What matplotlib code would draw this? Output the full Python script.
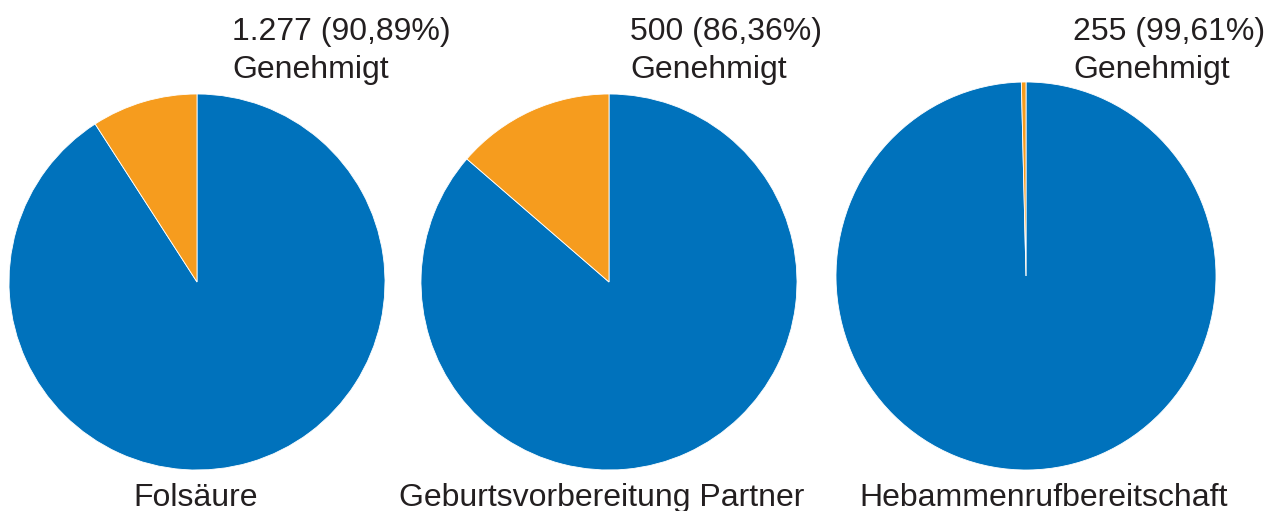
import matplotlib
matplotlib.use("Agg")
import matplotlib.pyplot as plt

categories = ["Folsäure", "Geburtsvorbereitung Partner", "Hebammenrufbereitschaft"]
approved = [1277, 500, 255]
other = [128, 79, 1]
approved_pct = ["90,89%", "86,36%", "99,61%"]
approved_label = ["1.277", "500", "255"]
status = "Genehmigt"

BLUE = "#0072BC"
ORANGE = "#F69C1E"
TEXT = "#231F20"

W, H = 1281, 511
fig = plt.figure(figsize=(W / 100, H / 100), dpi=100)
plt.rcParams['font.family'] = ['Liberation Sans', 'DejaVu Sans']

# pie geometry in pixels: (center x, center y, radius x, radius y)
geom = [(197, 282, 188, 188), (609, 282, 188, 188), (1026, 276, 190, 194)]
label_x = [232, 630, 1073]
title_x = [196, 602, 1044]
FS = 23

for i, (cx, cy, rx, ry) in enumerate(geom):
    ax = fig.add_axes([(cx - rx) / W, (H - cy - ry) / H, 2 * rx / W, 2 * ry / H])
    ax.pie([approved[i], other[i]], colors=[BLUE, ORANGE], startangle=90,
           counterclock=False, radius=1,
           wedgeprops=dict(edgecolor="white", linewidth=0.6))
    ax.set_xlim(-1, 1)
    ax.set_ylim(-1, 1)
    ax.set_aspect("auto")
    ax.axis("off")
    fig.text(label_x[i] / W, 1 - 40 / H, f"{approved_label[i]} ({approved_pct[i]})",
             fontsize=FS, ha="left", va="baseline", color=TEXT)
    fig.text(label_x[i] / W, 1 - 78 / H, status,
             fontsize=FS, ha="left", va="baseline", color=TEXT)
    fig.text(title_x[i] / W, 1 - 506 / H, categories[i],
             fontsize=FS, ha="center", va="baseline", color=TEXT)

fig.savefig("out.png", dpi=100)
